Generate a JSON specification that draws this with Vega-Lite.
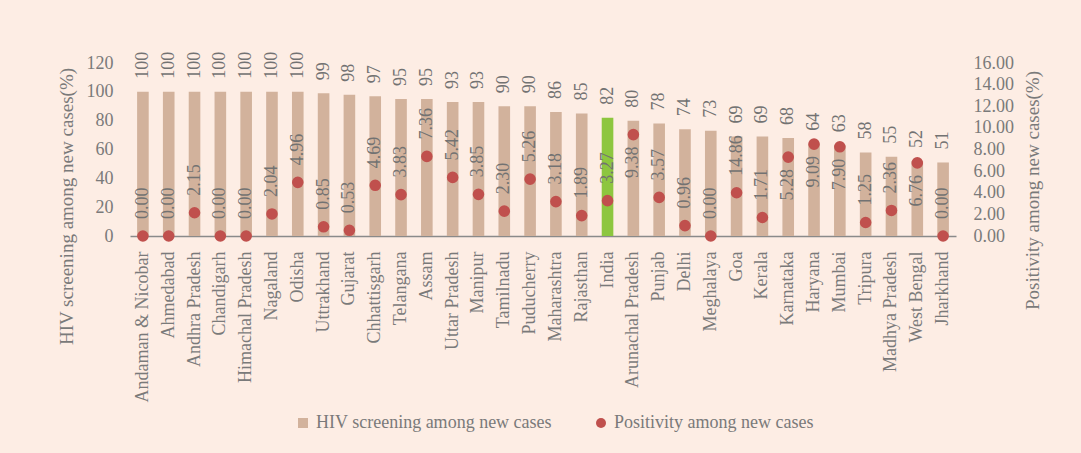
{
  "$schema": "https://vega.github.io/schema/vega-lite/v6.json",
  "width": 826,
  "height": 173,
  "autosize": {"type": "none"},
  "padding": {"left": 130, "top": 63, "right": 125, "bottom": 217},
  "background": "#FDEDE4",
  "config": {
    "font": "Liberation Serif",
    "view": {"stroke": null},
    "axis": {"labelFont": "Liberation Serif", "titleFont": "Liberation Serif", "labelFontSize": 18, "titleFontSize": 19, "labelColor": "#7a7a7a", "titleColor": "#7a7a7a", "titleFontWeight": "normal", "grid": false}
  },
  "data": {
    "values": [
      {"state": "Andaman & Nicobar", "screening": 100, "positivity": 0.0, "plabel": 0.0},
      {"state": "Ahmedabad", "screening": 100, "positivity": 0.0, "plabel": 0.0},
      {"state": "Andhra Pradesh", "screening": 100, "positivity": 2.15, "plabel": 2.15},
      {"state": "Chandigarh", "screening": 100, "positivity": 0.0, "plabel": 0.0},
      {"state": "Himachal Pradesh", "screening": 100, "positivity": 0.0, "plabel": 0.0},
      {"state": "Nagaland", "screening": 100, "positivity": 2.04, "plabel": 2.04},
      {"state": "Odisha", "screening": 100, "positivity": 4.96, "plabel": 4.96},
      {"state": "Uttrakhand", "screening": 99, "positivity": 0.85, "plabel": 0.85},
      {"state": "Gujarat", "screening": 98, "positivity": 0.53, "plabel": 0.53},
      {"state": "Chhattisgarh", "screening": 97, "positivity": 4.69, "plabel": 4.69},
      {"state": "Telangana", "screening": 95, "positivity": 3.83, "plabel": 3.83},
      {"state": "Assam", "screening": 95, "positivity": 7.36, "plabel": 7.36},
      {"state": "Uttar Pradesh", "screening": 93, "positivity": 5.42, "plabel": 5.42},
      {"state": "Manipur", "screening": 93, "positivity": 3.85, "plabel": 3.85},
      {"state": "Tamilnadu", "screening": 90, "positivity": 2.3, "plabel": 2.3},
      {"state": "Puducherry", "screening": 90, "positivity": 5.26, "plabel": 5.26},
      {"state": "Maharashtra", "screening": 86, "positivity": 3.18, "plabel": 3.18},
      {"state": "Rajasthan", "screening": 85, "positivity": 1.89, "plabel": 1.89},
      {"state": "India", "screening": 82, "positivity": 3.27, "plabel": 3.27},
      {"state": "Arunachal Pradesh", "screening": 80, "positivity": 9.38, "plabel": 9.38},
      {"state": "Punjab", "screening": 78, "positivity": 3.57, "plabel": 3.57},
      {"state": "Delhi", "screening": 74, "positivity": 0.96, "plabel": 0.96},
      {"state": "Meghalaya", "screening": 73, "positivity": 0.0, "plabel": 0.0},
      {"state": "Goa", "screening": 69, "positivity": 4.0, "plabel": 14.86},
      {"state": "Kerala", "screening": 69, "positivity": 1.71, "plabel": 1.71},
      {"state": "Karnataka", "screening": 68, "positivity": 7.3, "plabel": 5.28},
      {"state": "Haryana", "screening": 64, "positivity": 8.5, "plabel": 9.09},
      {"state": "Mumbai", "screening": 63, "positivity": 8.25, "plabel": 7.9},
      {"state": "Tripura", "screening": 58, "positivity": 1.25, "plabel": 1.25},
      {"state": "Madhya Pradesh", "screening": 55, "positivity": 2.36, "plabel": 2.36},
      {"state": "West Bengal", "screening": 52, "positivity": 6.76, "plabel": 6.76},
      {"state": "Jharkhand", "screening": 51, "positivity": 0.0, "plabel": 0.0}
    ]
  },
  "encoding": {
    "x": {
      "field": "state", "type": "nominal", "sort": null,
      "scale": {"paddingInner": 0.55, "paddingOuter": 0.275},
      "axis": {"title": null, "labelAngle": -90, "labelPadding": 15, "ticks": false, "domainColor": "#8a8a8a", "domainWidth": 1.5, "zindex": 0, "labelLimit": 300}
    }
  },
  "layer": [
    {
      "encoding": {
        "y": {
          "field": "screening", "type": "quantitative",
          "scale": {"domain": [0, 120], "nice": false},
          "axis": {"title": "HIV screening among new cases(%)", "values": [0, 20, 40, 60, 80, 100, 120], "domain": false, "ticks": false, "labelPadding": 17, "titlePadding": 10, "titleY": 143}
        }
      },
      "layer": [
        {
          "mark": {"type": "bar"},
          "encoding": {
            "color": {
              "condition": {"test": "datum.state === 'India'", "value": "#8DC63F"},
              "datum": "HIV screening among new cases",
              "scale": {"domain": ["HIV screening among new cases", "Positivity among new cases"], "range": ["#D2B29C", "#C0504D"]},
              "legend": {
                "title": null, "orient": "none", "legendX": 164, "legendY": 351, "direction": "horizontal",
                "labelFont": "Liberation Serif", "labelFontSize": 18, "labelColor": "#7a7a7a", "labelLimit": 400,
                "symbolSize": 100, "columnPadding": 40, "labelOffset": 4, "padding": 0,
                "symbolStrokeWidth": 0,
                "encode": {"symbols": {"update": {"shape": {"signal": "datum.value === 'HIV screening among new cases' ? 'square' : 'circle'"}}}}
              }
            }
          }
        },
        {
          "mark": {"type": "text", "angle": 270, "align": "left", "baseline": "middle", "dx": 13, "fontSize": 18, "color": "#727272", "font": "Liberation Serif"},
          "encoding": {"text": {"field": "screening", "type": "quantitative"}}
        }
      ]
    },
    {
      "encoding": {
        "y": {
          "field": "positivity", "type": "quantitative",
          "scale": {"domain": [0, 16], "nice": false},
          "axis": {"orient": "right", "title": "Positivity among new cases(%)", "values": [0, 2, 4, 6, 8, 10, 12, 14, 16], "format": ".2f", "domain": false, "ticks": false, "labelPadding": 17, "titlePadding": 10, "titleAngle": 270, "titleBaseline": "top", "titleY": 127}
        }
      },
      "layer": [
        {
          "mark": {"type": "point", "filled": true, "size": 135, "opacity": 1},
          "encoding": {"color": {"datum": "Positivity among new cases"}}
        },
        {
          "transform": [{"filter": "indexof(['Arunachal Pradesh','Karnataka','Haryana','Mumbai','West Bengal'], datum.state) < 0"}],
          "mark": {"type": "text", "angle": 270, "align": "left", "baseline": "middle", "dx": 17, "fontSize": 18, "color": "#727272", "font": "Liberation Serif"},
          "encoding": {"text": {"field": "plabel", "type": "quantitative", "format": ".2f"}}
        },
        {
          "transform": [{"filter": "indexof(['Arunachal Pradesh','Karnataka','Haryana','Mumbai','West Bengal'], datum.state) >= 0"}],
          "mark": {"type": "text", "angle": 270, "align": "right", "baseline": "middle", "dx": -12, "fontSize": 18, "color": "#727272", "font": "Liberation Serif"},
          "encoding": {"text": {"field": "plabel", "type": "quantitative", "format": ".2f"}}
        }
      ]
    }
  ],
  "resolve": {"scale": {"y": "independent"}}
}
